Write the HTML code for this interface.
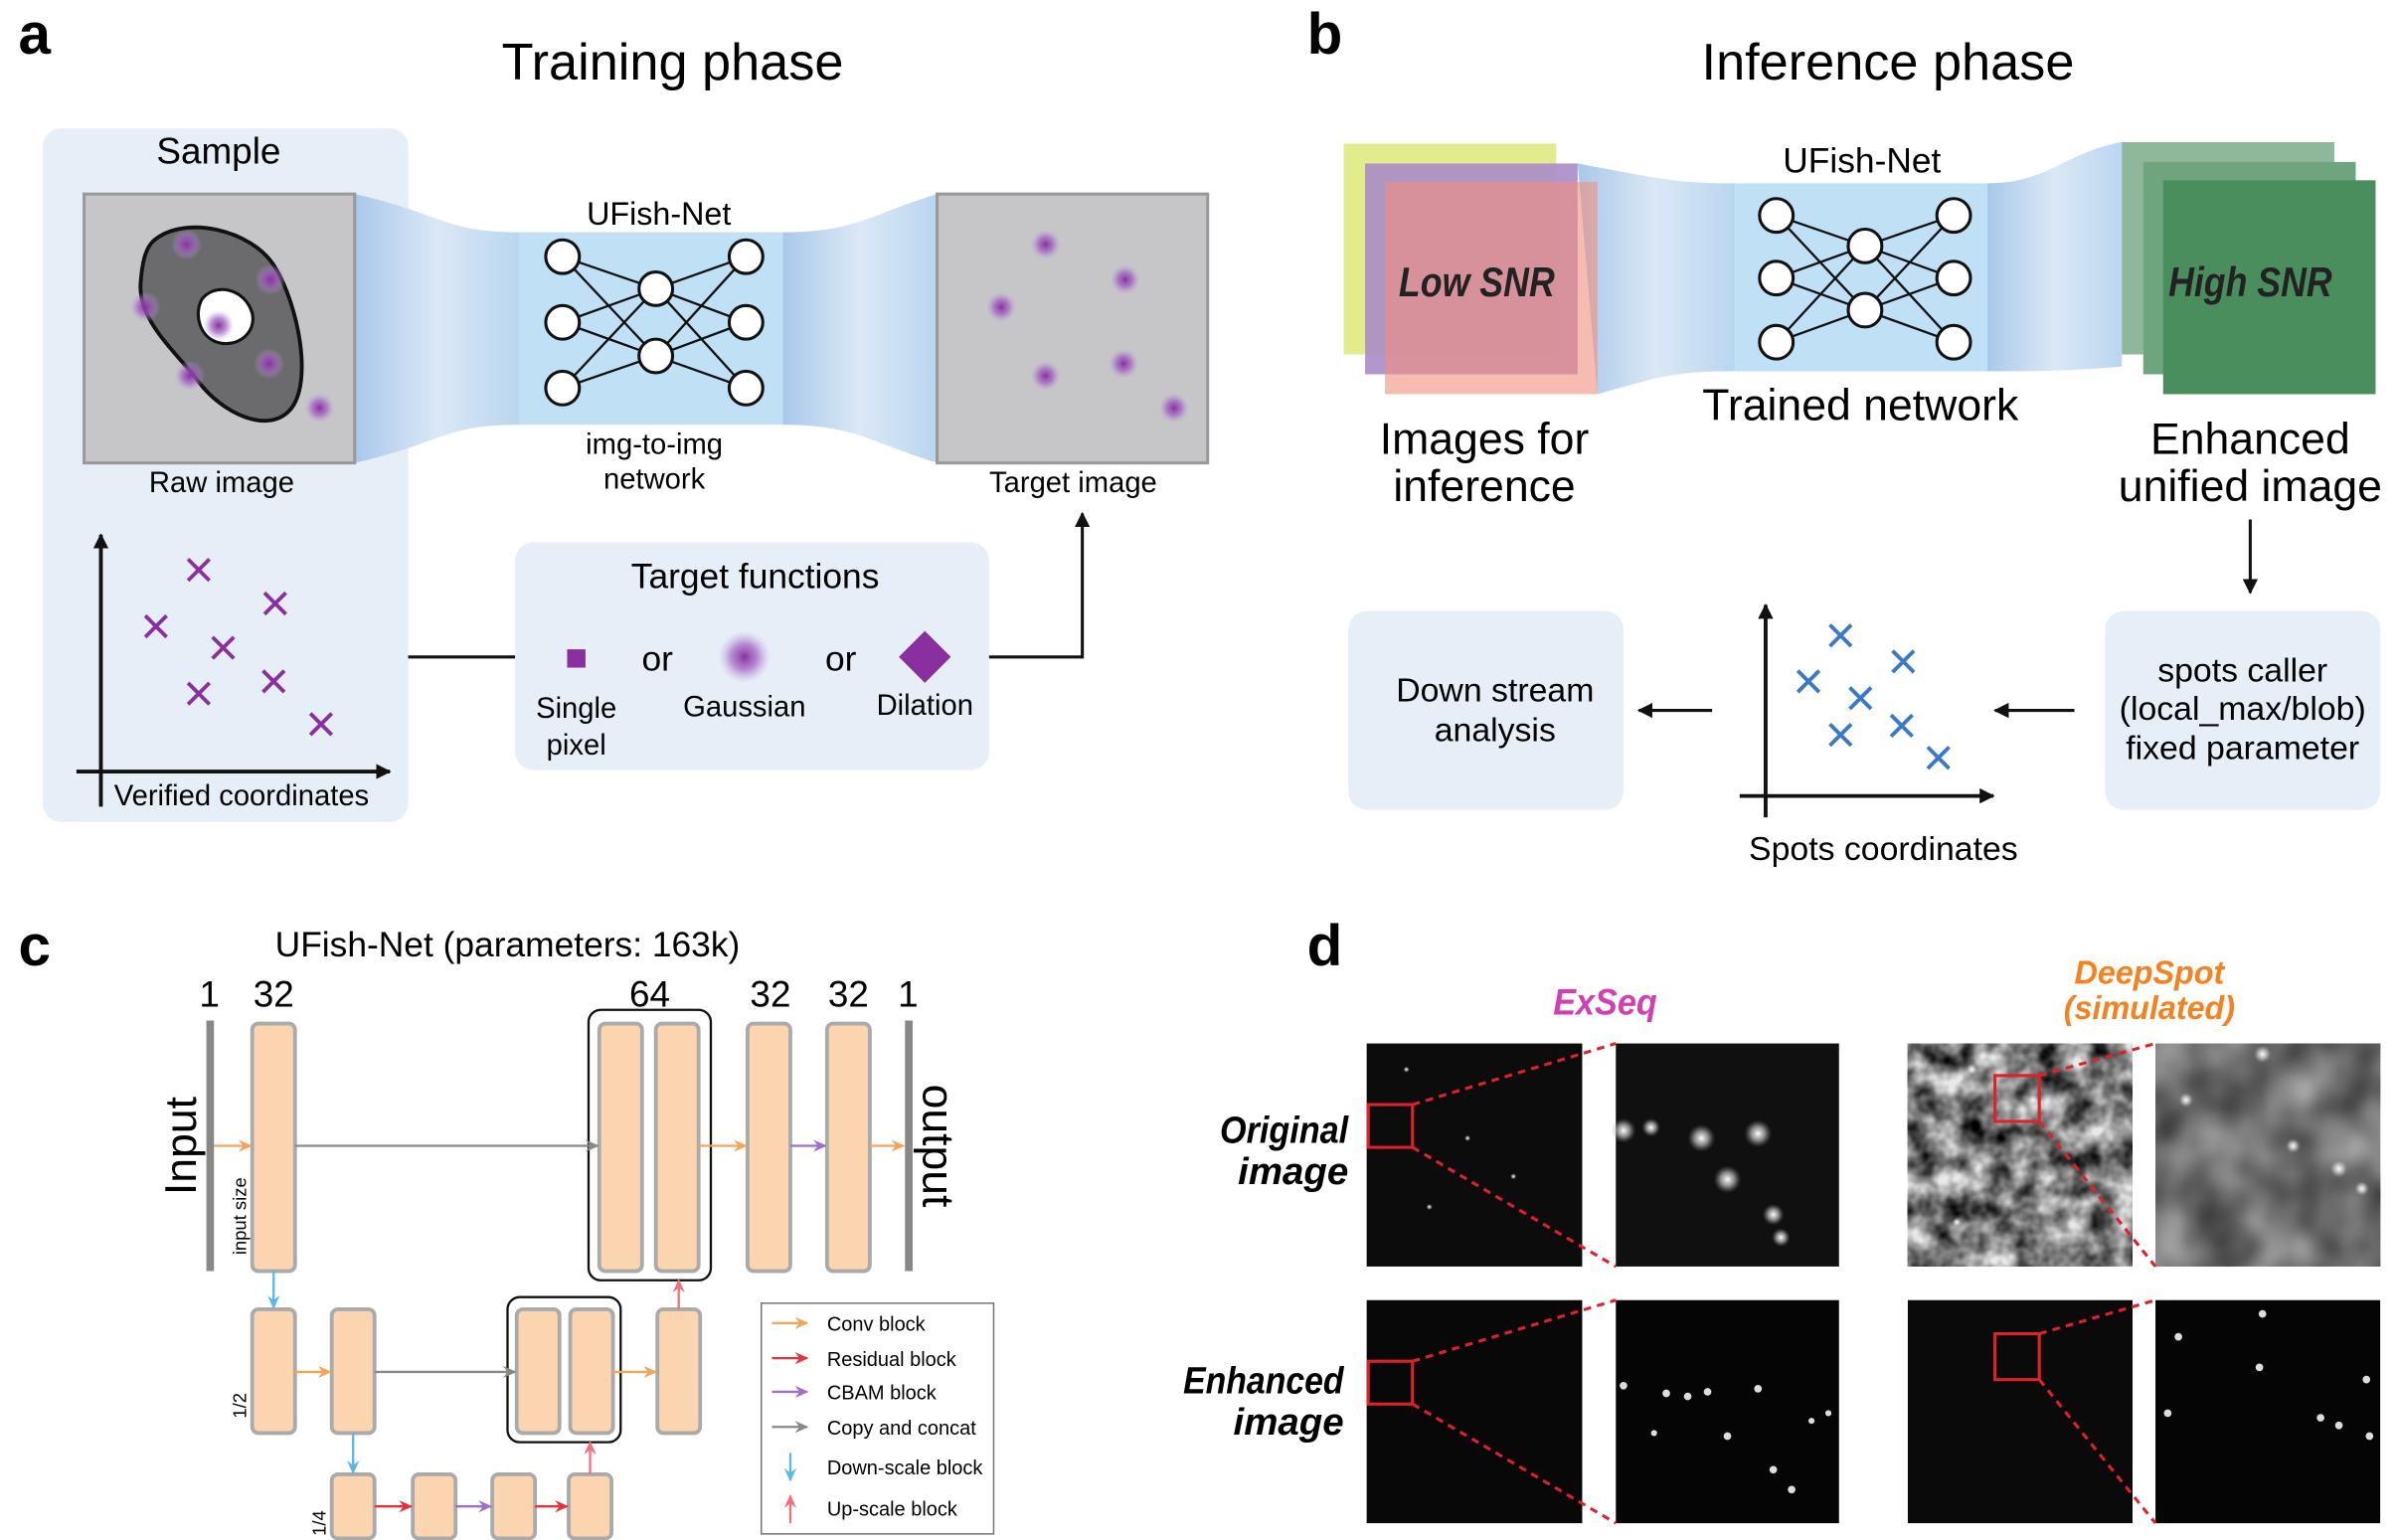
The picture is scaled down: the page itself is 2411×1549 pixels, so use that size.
<!DOCTYPE html>
<html><head><meta charset="utf-8"><style>
html,body{margin:0;padding:0;background:#fff}
svg{display:block;font-family:"Liberation Sans",sans-serif}
</style></head><body>
<svg id="fig" width="2411" height="1549" viewBox="0 0 1568 1008" preserveAspectRatio="none" xmlns="http://www.w3.org/2000/svg">
<defs>
<linearGradient id="fun" x1="0" x2="1" y1="0" y2="0"><stop offset="0" stop-color="#a9c8ea"/><stop offset="0.5" stop-color="#dbe8f6"/><stop offset="1" stop-color="#b9d6f0"/></linearGradient>
<radialGradient id="pdot"><stop offset="0" stop-color="#8a2fa0"/><stop offset="0.5" stop-color="#a060c0" stop-opacity="0.7"/><stop offset="1" stop-color="#c0a0e0" stop-opacity="0"/></radialGradient>
<radialGradient id="wdot"><stop offset="0" stop-color="#fff"/><stop offset="0.5" stop-color="#ddd" stop-opacity="0.6"/><stop offset="1" stop-color="#888" stop-opacity="0"/></radialGradient>
<filter id="noise" x="0" y="0" width="100%" height="100%"><feTurbulence type="fractalNoise" baseFrequency="0.06" numOctaves="3" seed="4"/><feColorMatrix type="matrix" values="0 0 0 0 0  0 0 0 0 0  0 0 0 0 0  1.6 0 0 0 -0.35"/></filter>
<filter id="noise2" x="0" y="0" width="100%" height="100%"><feTurbulence type="fractalNoise" baseFrequency="0.03" numOctaves="2" seed="9"/><feColorMatrix type="matrix" values="0 0 0 0 0  0 0 0 0 0  0 0 0 0 0  0.9 0 0 0 -0.1"/></filter>
<marker id="ak" markerWidth="10" markerHeight="10" refX="9" refY="5" orient="auto" markerUnits="userSpaceOnUse"><path d="M0,0 L10,5 L0,10 Z" fill="#111"/></marker>
<marker id="ao" markerWidth="9" markerHeight="8" refX="8" refY="4" orient="auto" markerUnits="userSpaceOnUse"><path d="M0,0 L9,4 L0,8 L3,4Z" fill="#f5a55a"/></marker>
<marker id="ag" markerWidth="9" markerHeight="8" refX="8" refY="4" orient="auto" markerUnits="userSpaceOnUse"><path d="M0,0 L9,4 L0,8 L3,4Z" fill="#888"/></marker>
<marker id="ap" markerWidth="9" markerHeight="8" refX="8" refY="4" orient="auto" markerUnits="userSpaceOnUse"><path d="M0,0 L9,4 L0,8 L3,4Z" fill="#a070c8"/></marker>
<marker id="ar" markerWidth="9" markerHeight="8" refX="8" refY="4" orient="auto" markerUnits="userSpaceOnUse"><path d="M0,0 L9,4 L0,8 L3,4Z" fill="#e8303a"/></marker>
<marker id="ab" markerWidth="9" markerHeight="8" refX="8" refY="4" orient="auto" markerUnits="userSpaceOnUse"><path d="M0,0 L9,4 L0,8 L3,4Z" fill="#5ab8e8"/></marker>
<marker id="apk" markerWidth="9" markerHeight="8" refX="8" refY="4" orient="auto" markerUnits="userSpaceOnUse"><path d="M0,0 L9,4 L0,8 L3,4Z" fill="#f07080"/></marker>
</defs>

<!-- Panel a -->
<text x="12" y="35" font-size="38" font-weight="bold">a</text>
<text x="440" y="52" font-size="34" text-anchor="middle">Training phase</text>
<rect x="28" y="84" width="239" height="454" rx="12" fill="#e6eef8"/>
<text x="143" y="107" font-size="24" text-anchor="middle">Sample</text>
<path d="M232,127 C290,140 290,152 340,152 L340,278 C290,278 290,290 232,303 Z" fill="url(#fun)"/>
<path d="M512,152 C560,152 570,140 613,127 L613,303 C570,290 560,278 512,278 Z" fill="url(#fun)"/>
<rect x="55" y="127" width="177" height="176" fill="#c6c6c8" stroke="#999" stroke-width="2"/>
<path d="M100,158 C120,140 165,150 180,175 C195,200 205,250 190,268 C175,285 145,270 130,250 C115,230 90,210 92,185 C93,172 95,163 100,158 Z" fill="#6b6b6d" stroke="#111" stroke-width="2.5"/>
<path d="M132,196 C140,185 160,188 165,205 C168,218 155,228 142,224 C130,220 127,205 132,196 Z" fill="#fff" stroke="#111" stroke-width="2"/>
<g fill="url(#pdot)">
<circle cx="122" cy="160" r="10"/><circle cx="177" cy="183" r="10"/><circle cx="95" cy="201" r="10"/><circle cx="143" cy="213" r="10"/><circle cx="176" cy="238" r="10"/><circle cx="124" cy="246" r="10"/><circle cx="209" cy="267" r="10"/></g>
<text x="145" y="322" font-size="19" text-anchor="middle">Raw image</text>
<rect x="340" y="152" width="172" height="126" fill="#bfe0f5"/>
<text x="431" y="147" font-size="21" text-anchor="middle">UFish-Net</text>
<g id="neta"></g>
<text x="428" y="297" font-size="19" text-anchor="middle">img-to-img</text>
<text x="428" y="320" font-size="19" text-anchor="middle">network</text>
<rect x="613" y="127" width="177" height="176" fill="#c6c6c8" stroke="#999" stroke-width="2"/>
<g fill="url(#pdot)">
<circle cx="684" cy="160" r="10"/><circle cx="736" cy="183" r="10"/><circle cx="655" cy="201" r="10"/><circle cx="735" cy="238" r="10"/><circle cx="684" cy="246" r="10"/><circle cx="768" cy="267" r="10"/></g>
<text x="702" y="322" font-size="19" text-anchor="middle">Target image</text>
<g stroke="#111" stroke-width="2.5">
<line x1="66" y1="528" x2="66" y2="350" marker-end="url(#ak)"/><line x1="50" y1="505" x2="255" y2="505" marker-end="url(#ak)"/></g>
<g id="crossA"></g>
<text x="158" y="527" font-size="19" text-anchor="middle">Verified coordinates</text>
<line x1="267" y1="430" x2="337" y2="430" stroke="#111" stroke-width="2"/>
<rect x="337" y="355" width="310" height="149" rx="12" fill="#e6eef8"/>
<text x="494" y="385" font-size="23" text-anchor="middle">Target functions</text>
<rect x="371" y="425" width="12" height="12" fill="#8a2fa0"/>
<text x="430" y="439" font-size="23" text-anchor="middle">or</text>
<circle cx="487" cy="430" r="17" fill="url(#pdot)"/>
<text x="550" y="439" font-size="23" text-anchor="middle">or</text>
<path d="M605,413 L622,430 L605,447 L588,430Z" fill="#8a2fa0"/>
<text x="377" y="470" font-size="19" text-anchor="middle">Single</text>
<text x="377" y="494" font-size="19" text-anchor="middle">pixel</text>
<text x="487" y="469" font-size="19" text-anchor="middle">Gaussian</text>
<text x="605" y="468" font-size="19" text-anchor="middle">Dilation</text>
<path d="M647,430 L708,430 L708,336" fill="none" stroke="#111" stroke-width="2" marker-end="url(#ak)"/>

<!-- Panel b -->
<text x="855" y="35" font-size="38" font-weight="bold">b</text>
<text x="1235" y="52" font-size="34" text-anchor="middle">Inference phase</text>
<path d="M1032,107 C1090,118 1100,120 1135,120 L1135,243 C1100,243 1090,245 1045,258 Z" fill="url(#fun)"/>
<path d="M1300,120 C1340,120 1350,100 1388,93 L1388,240 C1350,243 1340,243 1300,243 Z" fill="url(#fun)"/>
<rect x="879" y="94" width="139" height="138" fill="#e3ec8c"/>
<rect x="893" y="107" width="139" height="138" fill="#a98cc8" opacity="0.9"/>
<rect x="906" y="119" width="139" height="139" fill="#f0907f" opacity="0.6"/>
<text x="966" y="194" font-size="27" font-weight="bold" font-style="italic" text-anchor="middle" fill="#222" textLength="102" lengthAdjust="spacingAndGlyphs">Low SNR</text>
<rect x="1135" y="120" width="165" height="123" fill="#bfe0f5"/>
<text x="1218" y="113" font-size="23" text-anchor="middle">UFish-Net</text>
<g id="netb"></g>
<rect x="1388" y="93" width="139" height="139" fill="#8fb89a"/>
<rect x="1402" y="106" width="139" height="139" fill="#6ea47e"/>
<rect x="1415" y="118" width="139" height="140" fill="#4a8e5e"/>
<text x="1472" y="194" font-size="27" font-weight="bold" font-style="italic" text-anchor="middle" fill="#222" textLength="107" lengthAdjust="spacingAndGlyphs">High SNR</text>
<text x="971" y="297" font-size="29" text-anchor="middle">Images for</text>
<text x="971" y="328" font-size="29" text-anchor="middle">inference</text>
<text x="1217" y="275" font-size="29" text-anchor="middle">Trained network</text>
<text x="1472" y="297" font-size="29" text-anchor="middle">Enhanced</text>
<text x="1472" y="328" font-size="29" text-anchor="middle">unified image</text>
<line x1="1472" y1="340" x2="1472" y2="388" stroke="#111" stroke-width="2" marker-end="url(#ak)"/>
<rect x="1377" y="400" width="180" height="130" rx="12" fill="#e6eef8"/>
<text x="1467" y="446" font-size="22" text-anchor="middle">spots caller</text>
<text x="1467" y="471" font-size="22" text-anchor="middle">(local_max/blob)</text>
<text x="1467" y="497" font-size="22" text-anchor="middle">fixed parameter</text>
<line x1="1357" y1="465" x2="1305" y2="465" stroke="#111" stroke-width="2" marker-end="url(#ak)"/>
<g stroke="#111" stroke-width="2.5">
<line x1="1155" y1="535" x2="1155" y2="396" marker-end="url(#ak)"/><line x1="1138" y1="521" x2="1304" y2="521" marker-end="url(#ak)"/></g>
<g id="crossB"></g>
<text x="1232" y="563" font-size="22" text-anchor="middle">Spots coordinates</text>
<line x1="1120" y1="465" x2="1072" y2="465" stroke="#111" stroke-width="2" marker-end="url(#ak)"/>
<rect x="882" y="400" width="180" height="130" rx="12" fill="#e6eef8"/>
<text x="978" y="459" font-size="22" text-anchor="middle">Down stream</text>
<text x="978" y="485" font-size="22" text-anchor="middle">analysis</text>

<!-- Panel c -->
<text x="12" y="632" font-size="38" font-weight="bold">c</text>
<text x="332" y="626" font-size="23" text-anchor="middle">UFish-Net (parameters: 163k)</text>
<g font-size="24" text-anchor="middle">
<text x="137" y="659">1</text><text x="179" y="659">32</text><text x="425" y="659">64</text><text x="504" y="659">32</text><text x="555" y="659">32</text><text x="594" y="659">1</text></g>
<rect x="135" y="668" width="5" height="164" fill="#888"/>
<rect x="592" y="668" width="5" height="164" fill="#888"/>
<text transform="translate(128,750) rotate(-90)" font-size="29" text-anchor="middle">Input</text>
<text transform="translate(604,750) rotate(90)" font-size="29" text-anchor="middle">output</text>
<text transform="translate(161,796) rotate(-90)" font-size="12" text-anchor="middle">input size</text>
<text transform="translate(161,920) rotate(-90)" font-size="12" text-anchor="middle">1/2</text>
<text transform="translate(213,997) rotate(-90)" font-size="12" text-anchor="middle">1/4</text>
<rect x="385" y="661" width="80" height="177" rx="8" fill="none" stroke="#111" stroke-width="1.5"/>
<rect x="332" y="849" width="74" height="95" rx="8" fill="none" stroke="#111" stroke-width="1.5"/>
<g fill="#fbd5b0" stroke="#aaa" stroke-width="2.5">
<rect x="165" y="670" width="28" height="162" rx="4"/><rect x="392" y="670" width="28" height="162" rx="4"/><rect x="429" y="670" width="28" height="162" rx="4"/><rect x="489" y="670" width="28" height="162" rx="4"/><rect x="541" y="670" width="28" height="162" rx="4"/>
<rect x="165" y="857" width="28" height="81" rx="4"/><rect x="217" y="857" width="28" height="81" rx="4"/><rect x="338" y="857" width="28" height="81" rx="4"/><rect x="373" y="857" width="28" height="81" rx="4"/><rect x="430" y="857" width="28" height="81" rx="4"/>
<rect x="217" y="965" width="28" height="42" rx="4"/><rect x="270" y="965" width="28" height="42" rx="4"/><rect x="322" y="965" width="28" height="42" rx="4"/><rect x="372" y="965" width="28" height="42" rx="4"/></g>
<g stroke-width="1.5" fill="none">
<line x1="140" y1="750" x2="164" y2="750" stroke="#f5a55a" marker-end="url(#ao)"/>
<line x1="193" y1="750" x2="391" y2="750" stroke="#888" marker-end="url(#ag)"/>
<line x1="457" y1="750" x2="488" y2="750" stroke="#f5a55a" marker-end="url(#ao)"/>
<line x1="517" y1="750" x2="540" y2="750" stroke="#a070c8" marker-end="url(#ap)"/>
<line x1="569" y1="750" x2="591" y2="750" stroke="#f5a55a" marker-end="url(#ao)"/>
<line x1="179" y1="832" x2="179" y2="856" stroke="#5ab8e8" marker-end="url(#ab)"/>
<line x1="193" y1="898" x2="216" y2="898" stroke="#f5a55a" marker-end="url(#ao)"/>
<line x1="245" y1="898" x2="337" y2="898" stroke="#888" marker-end="url(#ag)"/>
<line x1="401" y1="898" x2="429" y2="898" stroke="#f5a55a" marker-end="url(#ao)"/>
<line x1="444" y1="857" x2="444" y2="838" stroke="#f07080" marker-end="url(#apk)"/>
<line x1="231" y1="938" x2="231" y2="964" stroke="#5ab8e8" marker-end="url(#ab)"/>
<line x1="245" y1="986" x2="269" y2="986" stroke="#e8303a" marker-end="url(#ar)"/>
<line x1="298" y1="986" x2="321" y2="986" stroke="#a070c8" marker-end="url(#ap)"/>
<line x1="350" y1="986" x2="371" y2="986" stroke="#e8303a" marker-end="url(#ar)"/>
<line x1="386" y1="965" x2="386" y2="944" stroke="#f07080" marker-end="url(#apk)"/></g>
<rect x="498" y="853" width="152" height="151" fill="#fff" stroke="#777" stroke-width="1"/>
<g font-size="13" stroke-width="1.5">
<line x1="505" y1="866" x2="528" y2="866" stroke="#f5a55a" marker-end="url(#ao)"/><text x="541" y="871" stroke="none">Conv block</text>
<line x1="505" y1="889" x2="528" y2="889" stroke="#e8303a" marker-end="url(#ar)"/><text x="541" y="894" stroke="none">Residual block</text>
<line x1="505" y1="911" x2="528" y2="911" stroke="#a070c8" marker-end="url(#ap)"/><text x="541" y="916" stroke="none">CBAM block</text>
<line x1="505" y1="934" x2="528" y2="934" stroke="#888" marker-end="url(#ag)"/><text x="541" y="939" stroke="none">Copy and concat</text>
<line x1="517" y1="951" x2="517" y2="969" stroke="#5ab8e8" marker-end="url(#ab)"/><text x="541" y="965" stroke="none">Down-scale block</text>
<line x1="517" y1="997" x2="517" y2="979" stroke="#f07080" marker-end="url(#apk)"/><text x="541" y="992" stroke="none">Up-scale block</text></g>

<!-- Panel d -->
<text x="855" y="632" font-size="38" font-weight="bold">d</text>
<text x="1050" y="664" font-size="24" font-weight="bold" font-style="italic" fill="#d040b0" text-anchor="middle" textLength="68" lengthAdjust="spacingAndGlyphs">ExSeq</text>
<text x="1406" y="644" font-size="22" font-weight="bold" font-style="italic" fill="#f58220" text-anchor="middle" textLength="98" lengthAdjust="spacingAndGlyphs">DeepSpot</text>
<text x="1406" y="667" font-size="22" font-weight="bold" font-style="italic" fill="#f58220" text-anchor="middle" textLength="112" lengthAdjust="spacingAndGlyphs">(simulated)</text>
<g font-size="25" font-weight="bold" font-style="italic" text-anchor="end">
<text x="882" y="748" textLength="84" lengthAdjust="spacingAndGlyphs">Original</text><text x="882" y="775">image</text>
<text x="879" y="912" textLength="105" lengthAdjust="spacingAndGlyphs">Enhanced</text><text x="879" y="939">image</text></g>
<rect x="894" y="683" width="141" height="146" fill="#0c0c0c"/>
<rect x="1057" y="683" width="146" height="146" fill="#101010"/>
<rect x="1248" y="683" width="147" height="146" fill="#e8e8e8"/>
<rect x="1248" y="683" width="147" height="146" filter="url(#noise)"/>
<rect x="1410" y="683" width="147" height="146" fill="#a8a8a8"/>
<rect x="1410" y="683" width="147" height="146" filter="url(#noise2)"/>
<rect x="894" y="851" width="141" height="146" fill="#080808"/>
<rect x="1057" y="851" width="146" height="146" fill="#050505"/>
<rect x="1248" y="851" width="147" height="146" fill="#0a0a0a"/>
<rect x="1410" y="851" width="147" height="146" fill="#050505"/>
<g fill="url(#wdot)">
<circle cx="1062" cy="740" r="8"/><circle cx="1113" cy="745" r="9"/><circle cx="1150" cy="742" r="9"/><circle cx="1130" cy="772" r="9"/><circle cx="1160" cy="795" r="7"/><circle cx="1165" cy="810" r="6"/><circle cx="1080" cy="738" r="6"/>
<circle cx="1290" cy="700" r="4"/><circle cx="1330" cy="720" r="4"/><circle cx="1280" cy="800" r="3"/><circle cx="1480" cy="690" r="6"/><circle cx="1430" cy="720" r="5"/><circle cx="1530" cy="765" r="6"/><circle cx="1500" cy="750" r="5"/><circle cx="1545" cy="778" r="5"/>
<circle cx="920" cy="700" r="2"/><circle cx="960" cy="745" r="2"/><circle cx="935" cy="790" r="2"/><circle cx="990" cy="770" r="2"/>
</g>
<g fill="#ddd">
<circle cx="1062" cy="907" r="2.5"/><circle cx="1090" cy="912" r="2.5"/><circle cx="1104" cy="914" r="2.5"/><circle cx="1117" cy="911" r="2.5"/><circle cx="1150" cy="909" r="2.5"/><circle cx="1130" cy="940" r="2.5"/><circle cx="1082" cy="938" r="2"/><circle cx="1160" cy="962" r="2.5"/><circle cx="1172" cy="975" r="2.5"/><circle cx="1185" cy="930" r="2"/><circle cx="1196" cy="925" r="2"/>
<circle cx="1480" cy="860" r="2.5"/><circle cx="1425" cy="875" r="2.5"/><circle cx="1478" cy="895" r="2.5"/><circle cx="1418" cy="925" r="2.5"/><circle cx="1518" cy="928" r="2.5"/><circle cx="1530" cy="933" r="2.5"/><circle cx="1550" cy="940" r="2.5"/><circle cx="1548" cy="903" r="2.5"/>
</g>
<g fill="none" stroke="#e0202a" stroke-width="2">
<rect x="895" y="723" width="29" height="28"/><rect x="895" y="891" width="29" height="28"/><rect x="1305" y="704" width="29" height="30"/><rect x="1305" y="873" width="29" height="30"/>
<g stroke-dasharray="5,4"><line x1="924" y1="723" x2="1057" y2="683"/><line x1="924" y1="751" x2="1057" y2="829"/><line x1="924" y1="891" x2="1057" y2="851"/><line x1="924" y1="919" x2="1057" y2="997"/>
<line x1="1334" y1="704" x2="1410" y2="683"/><line x1="1334" y1="734" x2="1410" y2="829"/><line x1="1334" y1="873" x2="1410" y2="851"/><line x1="1334" y1="903" x2="1410" y2="997"/></g></g>
</svg>
<script>
// chart data: scatter crosses
const verifiedX = [3.2, 5.7, 1.8, 4.0, 3.2, 5.65, 7.2];
const verifiedY = [6.6, 5.5, 4.75, 4.05, 2.55, 2.95, 1.55];
const spotsX = [2.45, 4.5, 1.4, 3.1, 4.45, 2.45, 5.65];
const spotsY = [5.25, 4.4, 3.75, 3.2, 2.3, 2.0, 1.25];
const NS = "http://www.w3.org/2000/svg";
function drawCrosses(gid, xs, ys, ox, oy, color, name) {
  const g = document.getElementById(gid);
  const sx = v => ox + v * 20, sy = v => oy - v * 20;
  xs.forEach((v, i) => {
    const cx = sx(v), cy = sy(ys[i]);
    const p = document.createElementNS(NS, "path");
    p.setAttribute("d", `M${cx-7},${cy-7}L${cx+7},${cy+7}M${cx+7},${cy-7}L${cx-7},${cy+7}`);
    p.setAttribute("stroke", color); p.setAttribute("stroke-width", "2.5");
    
    
    g.appendChild(p);
  });
}
drawCrosses("crossA", verifiedX, verifiedY, 66, 505, "#8a2fa0", "verified-cross");
drawCrosses("crossB", spotsX, spotsY, 1155, 521, "#3a78c8", "spot-cross");
function drawNet(gid, L, M, R, ly, my) {
  const g = document.getElementById(gid);
  const line = (a,b,c,d) => { const l = document.createElementNS(NS,"line");
    l.setAttribute("x1",a);l.setAttribute("y1",b);l.setAttribute("x2",c);l.setAttribute("y2",d);
    l.setAttribute("stroke","#111");l.setAttribute("stroke-width","1.5");
    
    
    g.appendChild(l); };
  ly.forEach(y1 => my.forEach(y2 => { line(L,y1,M,y2); line(M,y2,R,y1); }));
  const node = (x,y) => { const c = document.createElementNS(NS,"circle");
    c.setAttribute("cx",x);c.setAttribute("cy",y);c.setAttribute("r",11);
    c.setAttribute("fill","#fff");c.setAttribute("stroke","#111");c.setAttribute("stroke-width","2");
    
    
    g.appendChild(c); };
  ly.forEach(y => { node(L,y); node(R,y); }); my.forEach(y => node(M,y));
}
drawNet("neta", 368, 429, 488, [168,211,254], [189,233]);
drawNet("netb", 1162, 1220, 1278, [141,182,224], [161,203]);
</script>
</body></html>
